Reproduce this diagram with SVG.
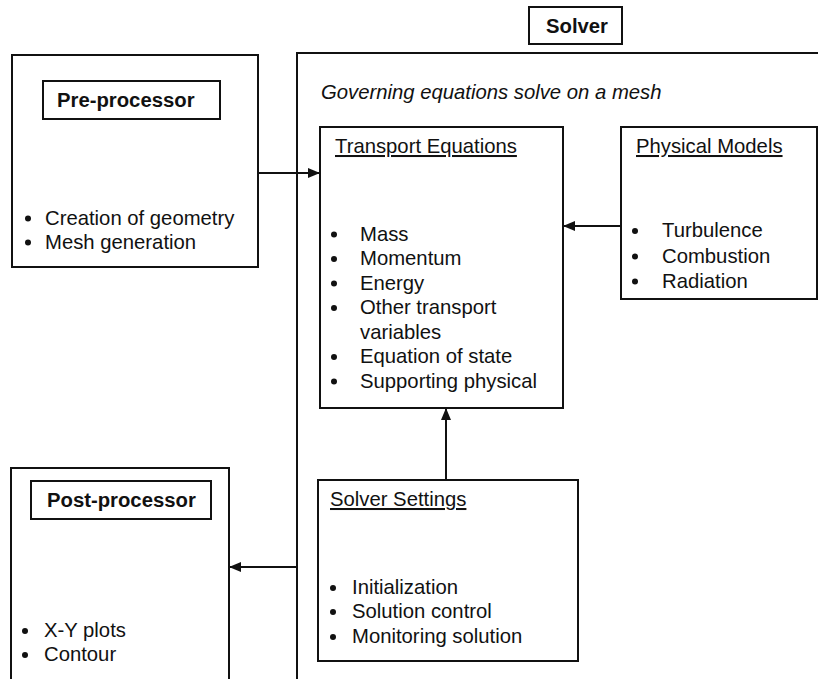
<svg xmlns="http://www.w3.org/2000/svg" width="818" height="679" viewBox="0 0 818 679">
  <style>
    .box { fill: none; stroke: #111; stroke-width: 2; }
    .t { font-family: "Liberation Sans", Arial, sans-serif; font-size: 20.3px; fill: #111; }
    .b { font-weight: bold; }
    .i { font-style: italic; }
    .u { text-decoration: underline; }
    .dot { fill: #111; }
    .conn { stroke: #111; stroke-width: 2; fill: none; marker-end: url(#arrow); }
  </style>
  <defs>
    <marker id="arrow" markerUnits="userSpaceOnUse" markerWidth="12" markerHeight="10" refX="12" refY="5" orient="auto">
      <path d="M0,0 L12,5 L0,10 Z" fill="#111"/>
    </marker>
  </defs>
  <rect width="818" height="679" fill="#fff"/>

  <!-- Pre-processor -->
  <g id="pre-processor">
    <rect class="box" x="12" y="55" width="246" height="212"/>
    <rect class="box" x="43" y="81" width="177" height="38"/>
    <text class="t b" x="57" y="107">Pre-processor</text>
    <circle class="dot" cx="28" cy="218.5" r="3"/>
    <text class="t" x="45" y="225">Creation of geometry</text>
    <circle class="dot" cx="28" cy="242.5" r="3"/>
    <text class="t" x="45" y="249">Mesh generation</text>
  </g>

  <!-- Solver frame -->
  <g id="solver">
    <rect class="box" x="529" y="7" width="93" height="37"/>
    <text class="t b" x="546" y="33">Solver</text>
    <path class="box" d="M297,680 V53 H819"/>
    <text class="t i" x="321" y="99">Governing equations solve on a mesh</text>
  </g>

  <!-- Transport Equations -->
  <g id="transport-equations">
    <rect class="box" x="320" y="127" width="243" height="281"/>
    <text class="t u" x="335" y="153">Transport Equations</text>
    <circle class="dot" cx="334" cy="234.5" r="3"/>
    <text class="t" x="360" y="240.5">Mass</text>
    <circle class="dot" cx="334" cy="259" r="3"/>
    <text class="t" x="360" y="265">Momentum</text>
    <circle class="dot" cx="334" cy="283.5" r="3"/>
    <text class="t" x="360" y="289.5">Energy</text>
    <circle class="dot" cx="334" cy="308" r="3"/>
    <text class="t" x="360" y="314">Other transport</text>
    <text class="t" x="360" y="338.5">variables</text>
    <circle class="dot" cx="334" cy="357" r="3"/>
    <text class="t" x="360" y="363">Equation of state</text>
    <circle class="dot" cx="334" cy="381.5" r="3"/>
    <text class="t" x="360" y="387.5">Supporting physical</text>
  </g>

  <!-- Physical Models -->
  <g id="physical-models">
    <rect class="box" x="621" y="127" width="196" height="172"/>
    <text class="t u" x="636" y="153">Physical Models</text>
    <circle class="dot" cx="635" cy="231" r="3"/>
    <text class="t" x="662" y="237">Turbulence</text>
    <circle class="dot" cx="635" cy="256.5" r="3"/>
    <text class="t" x="662" y="262.5">Combustion</text>
    <circle class="dot" cx="635" cy="281.5" r="3"/>
    <text class="t" x="662" y="287.5">Radiation</text>
  </g>

  <!-- Solver Settings -->
  <g id="solver-settings">
    <rect class="box" x="318" y="480" width="260" height="181"/>
    <text class="t u" x="330" y="506">Solver Settings</text>
    <circle class="dot" cx="333" cy="588" r="3"/>
    <text class="t" x="352" y="594">Initialization</text>
    <circle class="dot" cx="333" cy="612" r="3"/>
    <text class="t" x="352" y="618">Solution control</text>
    <circle class="dot" cx="333" cy="637" r="3"/>
    <text class="t" x="352" y="643">Monitoring solution</text>
  </g>

  <!-- Post-processor -->
  <g id="post-processor">
    <rect class="box" x="11" y="468" width="218" height="222"/>
    <rect class="box" x="31" y="481" width="180" height="38"/>
    <text class="t b" x="47" y="507">Post-processor</text>
    <circle class="dot" cx="25" cy="631" r="3"/>
    <text class="t" x="44" y="637">X-Y plots</text>
    <circle class="dot" cx="25" cy="655" r="3"/>
    <text class="t" x="44" y="661">Contour</text>
  </g>

  <!-- Connectors -->
  <g id="connectors">
    <line class="conn" x1="258" y1="173" x2="320" y2="173"/>
    <line class="conn" x1="621" y1="226" x2="563" y2="226"/>
    <line class="conn" x1="446" y1="480" x2="446" y2="408"/>
    <line class="conn" x1="297" y1="567" x2="229" y2="567"/>
  </g>
</svg>
